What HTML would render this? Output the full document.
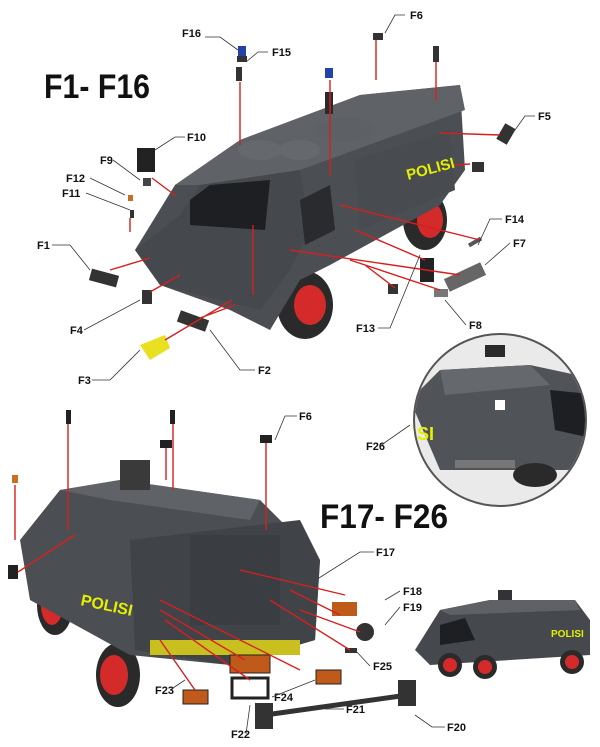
<!DOCTYPE html>
<html><head><meta charset="utf-8"><style>
html,body{margin:0;padding:0;background:#fff;}
svg{display:block;font-family:"Liberation Sans",sans-serif;}
.l{font-size:11px;font-weight:bold;fill:#111;}
.r{stroke:#d62020;stroke-width:1.4;fill:none;}
.k{stroke:#333;stroke-width:0.8;fill:none;}
</style></head><body>
<svg width="600" height="747" viewBox="0 0 600 747" xmlns="http://www.w3.org/2000/svg">
<rect width="600" height="747" fill="#fff"/>
<text x="44" y="98" font-size="34" font-weight="bold" fill="#111" textLength="106" lengthAdjust="spacingAndGlyphs">F1- F16</text>
<text x="320" y="528" font-size="34" font-weight="bold" fill="#111" textLength="128" lengthAdjust="spacingAndGlyphs">F17- F26</text>

<g>
<ellipse cx="305" cy="305" rx="28" ry="34" fill="#2a2a2a"/>
<ellipse cx="310" cy="305" rx="16" ry="20" fill="#d42a2a"/>
<ellipse cx="425" cy="220" rx="22" ry="30" fill="#2a2a2a"/>
<ellipse cx="430" cy="220" rx="13" ry="18" fill="#d42a2a"/>
<polygon points="175,185 240,140 360,95 460,85 465,170 440,205 330,265 300,280 270,330 230,310 160,285 135,250" fill="#4b4e53"/>
<polygon points="175,185 240,140 360,95 460,85 465,110 300,170 200,185" fill="#5f6267"/>
<polygon points="180,215 200,185 300,170 310,230 290,270 260,310 160,285 135,250" fill="#45484c"/>
<polygon points="190,200 210,185 270,180 265,230 190,225" fill="#1e1f22"/>
<polygon points="300,200 330,185 335,230 305,245" fill="#2a2b2e"/>
<polygon points="355,160 450,130 455,190 360,230" fill="#484b4f"/>
<ellipse cx="260" cy="150" rx="22" ry="10" fill="#65686c"/>
<ellipse cx="300" cy="150" rx="20" ry="10" fill="#65686c"/>
<ellipse cx="345" cy="130" rx="30" ry="12" fill="#5d6064"/>
<rect x="325" y="92" width="8" height="22" fill="#2a2a2a"/>
<rect x="325" y="68" width="8" height="10" fill="#2244aa"/>
<text x="408" y="180" font-size="15" font-weight="bold" fill="#e5f000" transform="rotate(-15 408 180)">POLISI</text>
</g>
<rect x="238" y="46" width="8" height="10" fill="#2244aa"/>
<rect x="237" y="56" width="10" height="6" fill="#333"/>
<rect x="236" y="67" width="6" height="14" fill="#333"/>
<rect x="373" y="33" width="10" height="7" fill="#333"/>
<rect x="433" y="46" width="6" height="16" fill="#333"/>
<rect x="137" y="148" width="18" height="24" fill="#222"/>
<rect x="143" y="178" width="8" height="8" fill="#444"/>
<rect x="128" y="195" width="5" height="6" fill="#c87020"/>
<rect x="130" y="210" width="4" height="8" fill="#333"/>
<rect x="90" y="272" width="28" height="12" fill="#333" transform="rotate(15 104 278)"/>
<rect x="142" y="290" width="10" height="14" fill="#333"/>
<polygon points="140,345 165,335 170,348 150,360" fill="#e8e020"/>
<rect x="178" y="315" width="30" height="12" fill="#333" transform="rotate(20 193 321)"/>
<rect x="500" y="125" width="12" height="18" fill="#333" transform="rotate(30 506 134)"/>
<rect x="472" y="162" width="12" height="10" fill="#333"/>
<rect x="445" y="270" width="40" height="14" fill="#666" transform="rotate(-25 465 277)"/>
<rect x="420" y="258" width="14" height="24" fill="#222"/>
<rect x="434" y="289" width="14" height="8" fill="#777"/>
<rect x="468" y="240" width="14" height="4" fill="#555" transform="rotate(-30 475 242)"/>
<rect x="388" y="284" width="10" height="10" fill="#333"/>
<path class="r" d="M240,82 V145 M376,40 V80 M436,62 V100 M500,135 L440,133 M152,178 L176,196 M130,218 V232 M110,270 L150,258 M150,292 L180,275 M165,340 L232,300 M200,318 L235,305 M330,80 V175 M253,225 V295 M480,240 L340,205 M460,275 L290,250 M425,260 L355,230 M440,290 L350,260 M395,288 L365,265 M470,164 L455,165"/>
<g class="l">
<text x="182" y="37">F16</text><text x="272" y="56">F15</text><text x="410" y="19">F6</text>
<text x="187" y="141">F10</text><text x="538" y="120">F5</text><text x="100" y="164">F9</text>
<text x="66" y="182">F12</text><text x="62" y="197">F11</text><text x="37" y="249">F1</text>
<text x="505" y="223">F14</text><text x="513" y="247">F7</text><text x="70" y="334">F4</text>
<text x="356" y="332">F13</text><text x="469" y="329">F8</text><text x="78" y="384">F3</text>
<text x="258" y="374">F2</text><text x="366" y="450">F26</text><text x="299" y="420">F6</text>
<text x="376" y="556">F17</text><text x="403" y="595">F18</text><text x="403" y="611">F19</text>
<text x="373" y="670">F25</text><text x="274" y="701">F24</text><text x="155" y="694">F23</text>
<text x="231" y="738">F22</text><text x="346" y="713">F21</text><text x="447" y="731">F20</text>
</g>
<path class="k" d="M205,37 H220 L238,50 M268,52 H258 L246,62 M405,15 H395 L385,33 M185,137 H175 L155,150 M535,116 H525 L515,130 M113,160 L140,180 M90,178 L125,195 M86,193 L130,210 M52,245 H70 L90,270 M84,330 L140,300 M378,328 H390 L420,255 M466,325 L445,300 M92,380 H110 L140,350 M255,370 H240 L210,330 M502,219 H490 L478,245 M510,243 L485,265 M380,446 L410,425 M297,416 H285 L275,440 M374,552 H360 L300,590 M400,591 L385,600 M400,607 L385,625 M370,666 L355,650 M272,697 L315,680 M170,690 L185,680 M246,734 L250,705 M344,709 H325 M445,727 H432 L415,715"/>

<circle cx="500" cy="420" r="86" fill="#eaeaea" stroke="#555" stroke-width="2"/>
<clipPath id="c"><circle cx="500" cy="420" r="85"/></clipPath>
<g clip-path="url(#c)">
<polygon points="410,400 440,370 530,365 600,380 600,470 440,470" fill="#505357"/>
<polygon points="440,370 530,365 550,385 445,395" fill="#65686c"/>
<polygon points="550,390 600,395 600,440 555,430" fill="#1e1f22"/>
<rect x="485" y="345" width="20" height="12" fill="#2a2a2a"/>
<text x="412" y="440" font-size="18" font-weight="bold" fill="#e5f000">ISI</text>
<rect x="455" y="460" width="60" height="8" fill="#777"/>
<ellipse cx="535" cy="475" rx="22" ry="12" fill="#2a2a2a"/>
<rect x="495" y="400" width="10" height="10" fill="#fff"/>
</g>

<ellipse cx="55" cy="605" rx="18" ry="30" fill="#2a2a2a"/>
<ellipse cx="52" cy="605" rx="11" ry="20" fill="#d42a2a"/>
<ellipse cx="118" cy="675" rx="22" ry="32" fill="#2a2a2a"/>
<ellipse cx="114" cy="675" rx="14" ry="20" fill="#d42a2a"/>
<polygon points="20,540 60,490 120,480 260,500 320,560 315,640 230,665 130,655 30,600" fill="#4b4e53"/>
<polygon points="60,490 120,480 260,500 250,520 110,500" fill="#5f6267"/>
<polygon points="130,540 300,520 320,560 315,640 230,665 135,650" fill="#404347"/>
<rect x="190" y="535" width="90" height="90" fill="#3a3d41"/>
<rect x="150" y="640" width="150" height="15" fill="#c9c020"/>
<rect x="120" y="460" width="30" height="30" fill="#3a3a3a"/>
<text x="80" y="605" font-size="16" font-weight="bold" fill="#e5f000" transform="rotate(12 80 605)">POLISI</text>
<rect x="66" y="410" width="5" height="14" fill="#222"/><rect x="170" y="410" width="5" height="14" fill="#222"/>
<rect x="160" y="440" width="12" height="8" fill="#222"/><rect x="260" y="435" width="12" height="8" fill="#222"/>
<rect x="12" y="475" width="6" height="8" fill="#c87020"/>
<rect x="8" y="565" width="10" height="14" fill="#222"/>
<rect x="332" y="602" width="25" height="14" fill="#c05a1a"/>
<circle cx="365" cy="632" r="9" fill="#333"/>
<rect x="230" y="655" width="40" height="18" fill="#c05a1a" stroke="#222"/>
<rect x="232" y="678" width="36" height="20" fill="#fff" stroke="#222" stroke-width="3"/>
<rect x="183" y="690" width="25" height="14" fill="#c05a1a" stroke="#222"/>
<rect x="316" y="670" width="25" height="14" fill="#c05a1a" stroke="#222"/>
<rect x="345" y="648" width="12" height="5" fill="#333"/>
<line x1="265" y1="715" x2="408" y2="695" stroke="#333" stroke-width="5"/>
<rect x="255" y="703" width="18" height="26" fill="#333"/><rect x="398" y="680" width="18" height="26" fill="#333"/>
<path class="r" d="M68,424 V530 M173,424 V490 M166,448 V480 M266,443 V530 M15,485 V540 M18,572 L75,535 M345,595 L240,570 M340,615 L290,590 M360,632 L300,610 M350,650 L270,600 M300,670 L160,600 M245,660 L160,610 M250,680 L165,620 M195,690 L160,640"/>

<polygon points="415,650 440,610 490,600 575,600 590,620 590,655 430,665" fill="#45484c"/>
<polygon points="440,610 490,600 575,600 580,610 450,615" fill="#5e6165"/>
<polygon points="440,625 465,618 475,640 440,645" fill="#1e1f22"/>
<rect x="498" y="590" width="14" height="10" fill="#333"/>
<text x="551" y="637" font-size="10" font-weight="bold" fill="#e5f000">POLISI</text>
<circle cx="450" cy="665" r="12" fill="#2a2a2a"/><circle cx="450" cy="665" r="7" fill="#d42a2a"/>
<circle cx="485" cy="667" r="12" fill="#2a2a2a"/><circle cx="485" cy="667" r="7" fill="#d42a2a"/>
<circle cx="572" cy="662" r="12" fill="#2a2a2a"/><circle cx="572" cy="662" r="7" fill="#d42a2a"/>
</svg>
</body></html>
